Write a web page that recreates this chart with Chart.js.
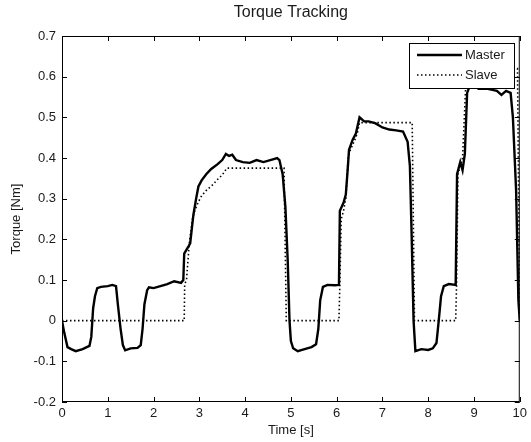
<!DOCTYPE html>
<html>
<head>
<meta charset="utf-8">
<script src="https://cdn.jsdelivr.net/npm/chart.js@4/dist/chart.umd.min.js"></script>
<style>
  html, body { margin: 0; padding: 0; background: #fff; }
  #wrap { width: 531px; height: 442px; }
</style>
</head>
<body>
<div id="wrap"><canvas id="chart" width="531" height="442"></canvas></div>
<script>
// values
const masterTime = [0, 0.05, 0.12, 0.2, 0.3, 0.45, 0.6, 0.64, 0.68, 0.72, 0.77, 0.85, 1.0, 1.1, 1.18, 1.22, 1.28, 1.33, 1.38,
  1.5, 1.65, 1.72, 1.76, 1.8, 1.86, 1.9, 2.0, 2.15, 2.3, 2.45, 2.6, 2.65, 2.67, 2.75, 2.8, 2.87, 2.93, 2.98, 3.05, 3.15,
  3.26, 3.4, 3.5, 3.58, 3.65, 3.72, 3.8, 3.95, 4.1, 4.25, 4.4, 4.55, 4.7, 4.75, 4.82, 4.88, 4.93, 4.97, 5.0, 5.05, 5.15,
  5.3, 5.45, 5.55, 5.6, 5.64, 5.7, 5.8, 5.95, 6.05, 6.07, 6.15, 6.2, 6.24, 6.27, 6.35, 6.42, 6.5, 6.6, 6.7, 6.85, 7.0,
  7.15, 7.3, 7.45, 7.55, 7.6, 7.64, 7.68, 7.72, 7.85, 8.0, 8.1, 8.18, 8.23, 8.28, 8.34, 8.45, 8.6, 8.63, 8.7, 8.75, 8.8,
  8.85, 8.9, 9.0, 9.1, 9.3, 9.5, 9.6, 9.7, 9.8, 9.85, 9.92, 9.97, 10.0];
const masterTorque = [0, -0.03, -0.065, -0.07, -0.075, -0.07, -0.062, -0.04, 0.03, 0.06, 0.08, 0.083, 0.085, 0.088, 0.085, 0.04, -0.02, -0.06, -0.073,
  -0.068, -0.067, -0.06, -0.02, 0.04, 0.075, 0.082, 0.08, 0.085, 0.09, 0.097, 0.093, 0.1, 0.165, 0.18, 0.19, 0.26, 0.3, 0.33, 0.345, 0.36,
  0.373, 0.385, 0.395, 0.41, 0.405, 0.408, 0.395, 0.39, 0.388, 0.395, 0.39, 0.395, 0.4, 0.395, 0.36, 0.28, 0.15, 0, -0.05, -0.068, -0.075,
  -0.07, -0.065, -0.058, -0.02, 0.05, 0.083, 0.088, 0.087, 0.088, 0.27, 0.29, 0.31, 0.37, 0.42, 0.445, 0.46, 0.5, 0.49, 0.49, 0.485, 0.475,
  0.47, 0.468, 0.465, 0.44, 0.38, 0.2, 0, -0.075, -0.07, -0.072, -0.068, -0.055, 0, 0.06, 0.085, 0.09, 0.088, 0.36, 0.39, 0.37, 0.41,
  0.56, 0.575, 0.58, 0.57, 0.57, 0.565, 0.555, 0.565, 0.56, 0.5, 0.32, 0.05, 0];

const slaveTime = [0, 2.67, 2.68, 2.72, 2.78, 2.85, 2.9, 2.97, 3.05, 3.15, 3.3, 3.42, 3.5, 3.6, 4.85, 4.9, 6.05, 6.07, 6.1, 6.15,
  6.2, 6.25, 6.3, 6.38, 6.45, 6.5, 7.65, 7.7, 8.6, 8.62, 8.65, 8.75, 8.82, 8.9, 9.9, 9.95, 10.0];
const slaveTorque = [0, 0, 0.09, 0.1, 0.19, 0.25, 0.27, 0.29, 0.307, 0.32, 0.335, 0.35, 0.358, 0.375, 0.375, 0, 0, 0.09, 0.25, 0.27,
  0.3, 0.4, 0.42, 0.44, 0.46, 0.487, 0.487, 0, 0, 0.09, 0.36, 0.4, 0.58, 0.6, 0.62, 0.62, 0];

const seriesNames = ["Master", "Slave"];
const chartTitle = "Torque Tracking";
const xLabel = "Time [s]";
const yLabel = "Torque [Nm]";

const FONT = "'Liberation Sans', Arial, sans-serif";
const INK = "#1a1a1a";

// MATLAB-style box, inward ticks, title and legend
const matlabAxes = {
  id: "matlabAxes",
  afterDraw(chart) {
    const { ctx, chartArea: a, scales } = chart;
    ctx.save();
    ctx.strokeStyle = "#000";
    ctx.lineWidth = 1;
    ctx.strokeRect(a.left + 0.5, a.top + 0.5, a.right - a.left - 1, a.bottom - a.top - 1);

    const tl = 5;
    ctx.beginPath();
    scales.x.ticks.forEach((t) => {
      const px = Math.round(scales.x.getPixelForValue(t.value)) + 0.5;
      ctx.moveTo(px, a.bottom); ctx.lineTo(px, a.bottom - tl);
      ctx.moveTo(px, a.top); ctx.lineTo(px, a.top + tl);
    });
    scales.y.ticks.forEach((t) => {
      const py = Math.round(scales.y.getPixelForValue(t.value)) + 0.5;
      ctx.moveTo(a.left, py); ctx.lineTo(a.left + tl, py);
      ctx.moveTo(a.right, py); ctx.lineTo(a.right - tl, py);
    });
    ctx.stroke();

    // title
    ctx.fillStyle = INK;
    ctx.font = "16px " + FONT;
    ctx.textAlign = "center";
    ctx.textBaseline = "middle";
    ctx.fillText(chartTitle, (a.left + a.right) / 2, 13);

    // legend
    const lx = 409, ly = 43, lw = 105, lh = 45;
    ctx.fillStyle = "#fff";
    ctx.fillRect(lx, ly, lw, lh);
    ctx.strokeStyle = "#000";
    ctx.strokeRect(lx + 0.5, ly + 0.5, lw, lh);
    chart.data.datasets.forEach((ds, i) => {
      const yy = ly + 12 + i * 20;
      ctx.beginPath();
      ctx.lineWidth = ds.borderWidth;
      ctx.setLineDash(ds.borderDash || []);
      ctx.moveTo(lx + 8, yy);
      ctx.lineTo(lx + 53, yy);
      ctx.stroke();
      ctx.setLineDash([]);
      ctx.fillStyle = INK;
      ctx.font = "13px " + FONT;
      ctx.textAlign = "left";
      ctx.fillText(ds.label, lx + 56, yy);
    });
    ctx.restore();
  },
};

new Chart(document.getElementById("chart"), {
  type: "line",
  data: {
    datasets: [
      {
        label: seriesNames[0],
        data: masterTime.map((t, i) => ({ x: t, y: masterTorque[i] })),
        borderColor: "#000",
        borderWidth: 2.4,
        pointRadius: 0,
        tension: 0,
      },
      {
        label: seriesNames[1],
        data: slaveTime.map((t, i) => ({ x: t, y: slaveTorque[i] })),
        borderColor: "#000",
        borderWidth: 1.6,
        borderDash: [1.5, 2.5],
        pointRadius: 0,
        tension: 0,
      },
    ],
  },
  options: {
    responsive: false,
    animation: false,
    layout: { padding: { top: 36, right: 6, left: 5, bottom: 0 } },
    plugins: {
      legend: { display: false },
      tooltip: { enabled: false },
      title: { display: false },
    },
    scales: {
      x: {
        type: "linear",
        min: 0,
        max: 10,
        ticks: { stepSize: 1, color: INK, font: { family: FONT, size: 13 }, padding: 4, maxRotation: 0 },
        grid: { display: false, drawTicks: false },
        border: { display: false },
        title: { display: true, text: xLabel, color: INK, font: { family: FONT, size: 13 }, padding: { top: 0 } },
        afterFit: (s) => { s.height = 40; },
      },
      y: {
        min: -0.2,
        max: 0.7,
        ticks: {
          stepSize: 0.1,
          color: INK,
          font: { family: FONT, size: 13 },
          padding: 6,
          callback: (v) => String(Number(v.toFixed(1))),
        },
        grid: { display: false, drawTicks: false },
        border: { display: false },
        title: { display: true, text: yLabel, color: INK, font: { family: FONT, size: 13 }, padding: { bottom: 4 } },
        afterFit: (s) => { s.width = 57; },
      },
    },
  },
  plugins: [matlabAxes],
});
</script>
</body>
</html>
